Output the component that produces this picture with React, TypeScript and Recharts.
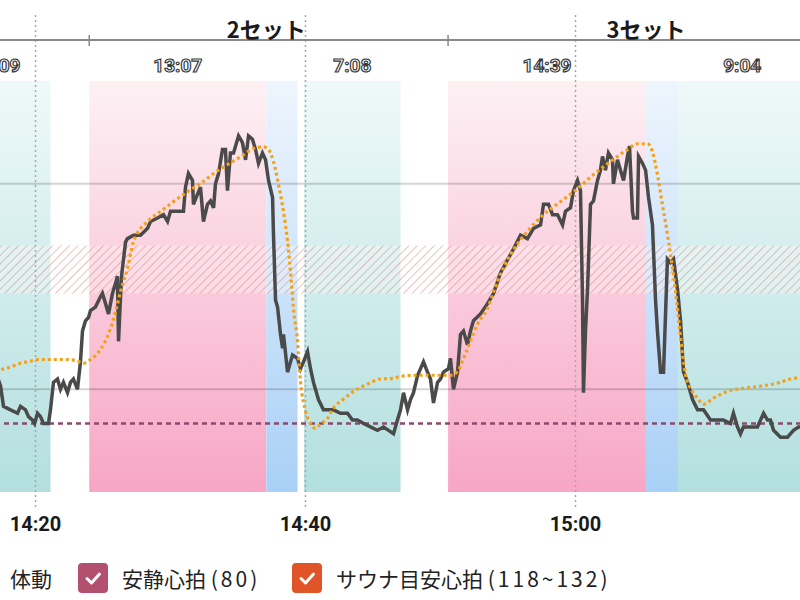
import React from 'react';
import { ComposedChart, Line, XAxis, YAxis, ReferenceArea, ReferenceLine } from 'recharts';

// time = minutes after 14:00
const hrTimes = [
  17.04, 17.41, 17.63, 18.15, 18.67, 18.89, 19.26, 19.48, 19.78, 19.93,
  20.15, 20.37, 20.59, 20.96, 21.11, 21.33, 21.63, 21.85, 22.07, 22.37,
  22.59, 22.81, 23.11, 23.33, 23.48, 23.7, 23.93, 24.07, 24.44, 24.81,
  24.96, 25.19, 25.41, 25.7, 25.93, 26.07, 26.15, 26.37, 26.67, 26.81,
  27.26, 27.78, 28.3, 28.52, 29.04, 29.48, 29.78, 30.0, 30.52, 30.96,
  31.11, 31.33, 31.63, 31.7, 32.0, 32.22, 32.44, 32.74, 32.96, 33.19,
  33.33, 33.56, 33.85, 34.07, 34.22, 34.44, 34.67, 35.04, 35.33, 35.56,
  35.78, 36.07, 36.3, 36.52, 36.81, 37.04, 37.26, 37.56, 37.63, 37.78,
  37.93, 38.15, 38.3, 38.37, 38.67, 38.89, 39.04, 39.41, 39.63, 39.85,
  40.15, 40.37, 40.59, 40.96, 41.33, 41.85, 42.07, 42.59, 43.11, 43.48,
  43.85, 44.3, 44.81, 45.33, 45.78, 46.15, 46.52, 46.81, 47.04, 47.26,
  47.56, 47.78, 48.0, 48.3, 48.74, 49.04, 49.26, 49.48, 49.78, 50.0,
  50.22, 50.59, 50.74, 50.96, 51.26, 51.48, 51.7, 52.0, 52.22, 52.44,
  52.96, 53.48, 53.93, 54.44, 55.41, 55.93, 56.44, 56.89, 57.41, 57.63,
  58.0, 58.3, 58.67, 59.04, 59.26, 59.63, 59.85, 60.15, 60.37, 60.52,
  60.59, 60.74, 60.89, 61.11, 61.33, 61.63, 61.85, 62.0, 62.22, 62.44,
  62.74, 62.81, 63.11, 63.33, 63.56, 63.85, 64.0, 64.22, 64.3, 64.59,
  64.67, 64.96, 65.19, 65.41, 65.7, 65.93, 66.07, 66.3, 66.52, 66.67,
  66.81, 67.04, 67.26, 67.56, 67.78, 68.0, 68.3, 68.67, 69.04, 69.48,
  70.0, 70.52, 70.96, 71.48, 71.7, 72.0, 72.22, 72.44, 72.96, 73.48,
  73.7, 73.93, 74.22, 74.44, 74.67, 75.19, 75.7, 76.15, 76.52, 77.04,
];
const hrBpm = [
  95, 91, 85, 84, 83, 85, 84, 82, 81, 80,
  83, 82, 80, 80, 84, 92, 93, 90, 92, 89,
  92, 93, 90, 98, 107, 110, 111, 113, 114, 117,
  118, 115, 112, 118, 121, 123, 104, 123, 133, 134,
  135, 135, 137, 139, 140, 141, 139, 142, 142, 142,
  149, 153, 151, 144, 147, 149, 139, 144, 145, 143,
  150, 153, 160, 160, 148, 159, 159, 164, 162, 157,
  164, 163, 160, 156, 159, 157, 151, 146, 135, 116,
  114, 106, 102, 106, 95, 98, 100, 99, 96, 98,
  101, 96, 92, 87, 84, 84, 84, 83, 83, 81,
  81, 80, 79, 78, 79, 78, 77, 81, 84, 89,
  84, 87, 89, 94, 98, 95, 93, 86, 92, 93,
  95, 96, 99, 90, 95, 106, 107, 103, 107, 110,
  112, 115, 118, 124, 131, 135, 134, 137, 138, 144,
  144, 141, 141, 138, 142, 143, 148, 151, 148, 116,
  89, 107, 119, 144, 145, 151, 154, 158, 154, 159,
  157, 150, 157, 154, 151, 158, 161, 142, 140, 140,
  158, 156, 154, 146, 138, 116, 107, 95, 95, 112,
  128, 127, 128, 119, 110, 95, 92, 87, 84, 84,
  81, 81, 81, 80, 83, 79, 77, 79, 79, 79,
  81, 83, 81, 81, 78, 76, 76, 78, 79, 79,
];

const targetTimes = [
  17.04, 17.41, 18.15, 18.89, 19.63, 20.22, 21.11, 22.37, 23.11, 23.56,
  24.07, 24.59, 25.04, 25.56, 25.93, 26.3, 26.81, 27.26, 28.3, 29.26,
  30.22, 31.26, 32.22, 33.19, 34.22, 35.19, 36.15, 36.89, 37.26, 37.63,
  38.0, 38.37, 38.67, 38.89, 39.11, 39.41, 39.63, 40.0, 40.37, 40.74,
  41.11, 41.63, 42.07, 42.81, 43.56, 44.59, 45.56, 46.52, 47.04, 48.52,
  50.74, 51.26, 51.7, 52.22, 52.74, 53.48, 54.22, 55.19, 56.44, 57.63,
  58.89, 60.15, 61.33, 62.59, 63.85, 64.59, 65.33, 65.7, 66.07, 66.44,
  66.81, 67.19, 67.41, 67.63, 67.93, 68.15, 68.52, 69.04, 69.48, 70.22,
  71.26, 72.44, 73.7, 74.96, 75.93, 77.04,
];
const targetBpm = [
  95.2, 95.7, 96.5, 97.6, 98.2, 98.7, 98.7, 98.7, 98.2, 97.6,
  98.7, 100.5, 103.1, 107.8, 112.7, 118.6, 125.3, 133.1, 139.0, 141.9,
  144.8, 147.7, 150.1, 153.0, 155.6, 157.9, 160.3, 160.8, 160.0, 156.5,
  149.8, 141.9, 133.1, 124.4, 113.6, 104.0, 92.3, 83.6, 79.9, 78.6,
  79.9, 81.5, 84.5, 87.1, 89.4, 91.5, 93.0, 93.2, 93.8, 94.1,
  94.1, 95.2, 99.0, 104.0, 109.0, 113.6, 121.5, 129.4, 136.1, 141.0,
  144.8, 148.6, 152.7, 156.5, 160.0, 161.7, 161.7, 159.4, 152.7, 143.9,
  135.2, 125.3, 118.6, 110.7, 100.2, 94.4, 90.3, 87.4, 85.6, 87.4,
  89.4, 90.3, 90.9, 91.8, 93.0, 93.5,
];

// phases (rest / sauna / water bath)
const bandStart = [13.85, 23.98, 37.1, 39.89, 50.56, 65.22, 67.59];
const bandEnd = [21.11, 37.1, 39.41, 47.04, 65.22, 67.59, 77.1];
const bandKind = ['rest', 'sauna', 'bath', 'rest', 'sauna', 'bath', 'rest'];
const bandLabel = ['7:09', '13:07', '', '7:08', '14:39', '', '9:04'];

const setNames = ['2セット', '3セット'];
const setStarts = [23.98, 50.56];
const setLabelAt = [37.1, 65.22];

const timeTicks = [20, 40, 60];
const gridValues = [90, 150];
const restHR = 80;
const zoneLow = 118;
const zoneHigh = 132;

const xDomain = [13, 81];
const yDomain = [60, 192];

const hrData = hrTimes.map((t, i) => ({ t, v: hrBpm[i] }));
const targetData = targetTimes.map((t, i) => ({ t, v: targetBpm[i] }));

const gradId: Record<string, string> = { rest: 'gRest', sauna: 'gSauna', bath: 'gBath' };

const fmtTime = (m: number) => {
  const h = 14 + Math.floor(m / 60);
  const mm = Math.round(m % 60);
  return `${h}:${String(mm).padStart(2, '0')}`;
};

const VGrid = (p: any) => {
  const top = Math.min(p.y1, p.y2);
  const bot = Math.max(p.y1, p.y2);
  return (
    <line x1={p.x1} x2={p.x2} y1={top - 25} y2={bot + 16} stroke="#a8a8a8" strokeWidth={1.5} strokeDasharray="2 3" />
  );
};

const SetTick = (p: any) => {
  const top = Math.min(p.y1, p.y2);
  return <line x1={p.x1} x2={p.x2} y1={top - 5} y2={top + 6} stroke="#8a8a8a" strokeWidth={1.5} />;
};

const NoLine = () => <g />;

const Check = ({ left, color }: { left: number; color: string }) => (
  <svg width={30} height={30} style={{ position: 'absolute', left, top: 0 }}>
    <rect x={0} y={0} width={30} height={30} rx={4} fill={color} />
    <polyline points="9,15.5 13.5,20 21.5,11" fill="none" stroke="#fff" strokeWidth={3} strokeLinecap="round" strokeLinejoin="round" />
  </svg>
);

export default function App() {
  return (
    <div style={{ position: 'fixed', left: 0, top: 0, width: 800, height: 600, overflow: 'hidden', background: '#fff' }}>
      <div style={{ position: 'absolute', left: -59.5, top: 0 }}>
        <ComposedChart width={918} height={560} margin={{ top: 0, right: 0, bottom: 18, left: 0 }}>
          <defs>
            <linearGradient id="gSauna" x1="0" y1="0" x2="0" y2="1">
              <stop offset="0" stopColor="#fdf1f4" />
              <stop offset="1" stopColor="#f7a6c5" />
            </linearGradient>
            <linearGradient id="gBath" x1="0" y1="0" x2="0" y2="1">
              <stop offset="0" stopColor="#eef5fd" />
              <stop offset="1" stopColor="#a9d0f6" />
            </linearGradient>
            <linearGradient id="gRest" x1="0" y1="0" x2="0" y2="1">
              <stop offset="0" stopColor="#eff9f9" />
              <stop offset="1" stopColor="#b3dfdf" />
            </linearGradient>
            <pattern id="hatch" width="6" height="6" patternUnits="userSpaceOnUse" patternTransform="rotate(45)">
              <rect width="6" height="6" fill="#ffffff" fillOpacity="0.3" />
              <line x1="0" y1="0" x2="0" y2="6" stroke="#cf6f5f" strokeWidth="1.2" strokeOpacity="0.7" />
            </pattern>
          </defs>
          <XAxis
            xAxisId="main"
            type="number"
            dataKey="t"
            domain={xDomain}
            allowDataOverflow
            ticks={timeTicks}
            interval={0}
            tickFormatter={fmtTime}
            axisLine={false}
            tickLine={false}
            tickMargin={19}
            height={50}
            tick={{ fill: '#1a1a1a', fontSize: 20, fontWeight: 700, fontFamily: 'Roboto' }}
          />
          <XAxis
            xAxisId="top"
            orientation="top"
            type="number"
            domain={xDomain}
            allowDataOverflow
            height={40}
            tickLine={false}
            tick={false}
            axisLine={{ stroke: '#8a8a8a', strokeWidth: 2 }}
          />
          <YAxis yAxisId="y" type="number" domain={yDomain} allowDataOverflow hide />
          {bandStart.map((s, i) => (
            <ReferenceArea
              key={`band-${i}`}
              xAxisId="main"
              yAxisId="y"
              x1={s}
              x2={bandEnd[i]}
              y1={60}
              y2={180}
              fill={`url(#${gradId[bandKind[i]]})`}
              fillOpacity={1}
              stroke="none"
              label={
                bandLabel[i]
                  ? {
                      value: bandLabel[i],
                      position: 'top',
                      offset: 9,
                      fill: '#ffffff',
                      stroke: '#3a3a3a',
                      strokeWidth: 1.2,
                      fontSize: 19,
                      fontWeight: 700,
                      fontFamily: 'Roboto',
                    }
                  : undefined
              }
            />
          ))}
          <ReferenceArea xAxisId="main" yAxisId="y" y1={zoneLow} y2={zoneHigh} fill="url(#hatch)" fillOpacity={1} stroke="none" />
          {gridValues.map((g) => (
            <ReferenceLine key={`g-${g}`} xAxisId="main" yAxisId="y" y={g} stroke="#000" strokeOpacity={0.17} strokeWidth={2} />
          ))}
          {timeTicks.map((t) => (
            <ReferenceLine key={`v-${t}`} xAxisId="main" yAxisId="y" x={t} shape={VGrid} />
          ))}
          {setStarts.map((t) => (
            <ReferenceLine key={`s-${t}`} xAxisId="main" yAxisId="y" x={t} shape={SetTick} />
          ))}
          {setLabelAt.map((t, i) => (
            <ReferenceLine
              key={`sl-${t}`}
              xAxisId="main"
              yAxisId="y"
              x={t}
              shape={NoLine}
              label={{
                value: setNames[i],
                position: 'top',
                offset: 2,
                fill: '#1a1a1a',
                fontSize: 22,
                fontWeight: 700,
                fontFamily: '"Noto Sans CJK JP", sans-serif',
              }}
            />
          ))}
          <ReferenceLine xAxisId="main" yAxisId="y" y={restHR} stroke="#8c4a6e" strokeWidth={2.5} strokeDasharray="5 4" />
          <Line
            xAxisId="main"
            yAxisId="y"
            data={hrData}
            dataKey="v"
            type="linear"
            stroke="#4a4a4a"
            strokeWidth={3.5}
            dot={false}
            activeDot={false}
            isAnimationActive={false}
          />
          <Line
            xAxisId="main"
            yAxisId="y"
            data={targetData}
            dataKey="v"
            type="monotone"
            stroke="#f4a11a"
            strokeWidth={3.2}
            strokeDasharray="3 3"
            dot={false}
            activeDot={false}
            isAnimationActive={false}
          />
        </ComposedChart>
      </div>
      <div
        style={{
          position: 'absolute',
          left: 0,
          top: 563,
          width: 800,
          height: 30,
          fontFamily: '"Noto Sans CJK JP", sans-serif',
          fontSize: 21,
          color: '#222',
          lineHeight: '30px',
        }}
      >
        <span style={{ position: 'absolute', left: 10, top: 0 }}>体動</span>
        <Check left={78} color="#b4506f" />
        <span style={{ position: 'absolute', left: 122, top: 0, whiteSpace: 'nowrap' }}>
          安静心拍 <span style={{ letterSpacing: 3 }}>(80)</span>
        </span>
        <Check left={292} color="#df5528" />
        <span style={{ position: 'absolute', left: 336, top: 0, whiteSpace: 'nowrap' }}>
          サウナ目安心拍 <span style={{ letterSpacing: 3 }}>(118~132)</span>
        </span>
      </div>
    </div>
  );
}
